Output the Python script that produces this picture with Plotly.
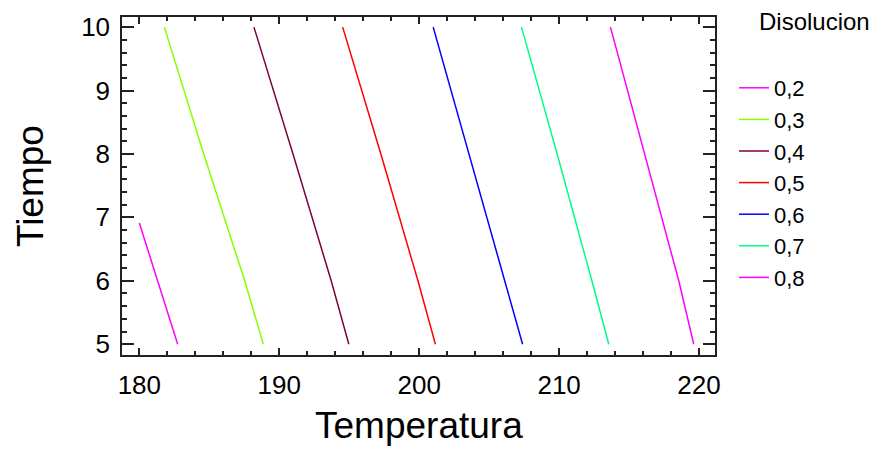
import plotly.graph_objects as go

# Contour levels (Disolucion) and their traced points (Temperatura, Tiempo)
levels = ["0,2", "0,3", "0,4", "0,5", "0,6", "0,7", "0,8"]
colors = ["#FF00FF", "#88FF00", "#800040", "#FF0000", "#0000FF", "#00FF80", "#FF00FF"]

tiempo_full = [10, 8, 6, 5]
tiempo_02 = [6.91, 6, 5]

temp_02 = [180.0, 181.31, 182.74]
temp_03 = [181.79, 184.60, 187.53, 188.86]
temp_04 = [188.19, 190.98, 193.71, 194.97]
temp_05 = [194.53, 197.26, 199.91, 201.16]
temp_06 = [201.00, 203.55, 206.12, 207.39]
temp_07 = [207.31, 209.86, 212.34, 213.55]
temp_08 = [213.67, 216.12, 218.55, 219.62]

x_ticks = [180, 190, 200, 210, 220]
y_ticks = [5, 6, 7, 8, 9, 10]

series = [
    (temp_02, tiempo_02),
    (temp_03, tiempo_full),
    (temp_04, tiempo_full),
    (temp_05, tiempo_full),
    (temp_06, tiempo_full),
    (temp_07, tiempo_full),
    (temp_08, tiempo_full),
]

FONT = "Liberation Sans, Arial, sans-serif"
W, H = 875, 442  # page body adds an 8px margin

fig = go.Figure()
for (xs, ys), name, col in zip(series, levels, colors):
    fig.add_trace(go.Scatter(x=xs, y=ys, mode="lines", name=name,
                             line=dict(color=col, width=1.5)))

axis_common = dict(
    showgrid=False, zeroline=False, showline=True, linecolor="#222222",
    linewidth=1.5, mirror="allticks", ticks="inside", tickcolor="#222222",
    tickwidth=1.5, tickfont=dict(family=FONT, size=26, color="black"),
)

fig.update_xaxes(range=[178.76, 221.14], tickvals=x_ticks, ticklen=7,
                 ticklabelstandoff=6,
                 minor=dict(dtick=2, ticks="inside", ticklen=4,
                            tickcolor="#222222", tickwidth=1.5),
                 **axis_common)
fig.update_yaxes(range=[4.83, 10.16], tickvals=y_ticks, ticklen=12,
                 ticklabelstandoff=5,
                 minor=dict(dtick=0.2, ticks="inside", ticklen=5,
                            tickcolor="#222222", tickwidth=1.5),
                 **axis_common)

fig.add_annotation(text="Temperatura", xref="paper", yref="paper",
                   x=0.5, y=-0.21, xanchor="center", yanchor="middle",
                   showarrow=False, font=dict(family=FONT, size=37, color="black"))
fig.add_annotation(text="Tiempo", xref="paper", yref="paper",
                   x=-0.155, y=0.5, xanchor="center", yanchor="middle",
                   textangle=-90, showarrow=False,
                   font=dict(family=FONT, size=37, color="black"))
fig.add_annotation(text="Disolucion", xref="paper", yref="paper",
                   x=1.1686, y=0.9854, xanchor="center", yanchor="middle",
                   showarrow=False, font=dict(family=FONT, size=24, color="black"))

fig.update_layout(
    width=W, height=H,
    margin=dict(l=114, r=168, t=4, b=95),
    paper_bgcolor="white", plot_bgcolor="white",
    showlegend=True,
    legend=dict(xref="container", yref="container", x=726 / W, y=1 - 59 / H,
                xanchor="left", yanchor="top", bgcolor="rgba(0,0,0,0)",
                font=dict(family=FONT, size=22, color="black"),
                itemwidth=30, tracegroupgap=0, maxheight=1),
)

fig.write_html("out.html")
